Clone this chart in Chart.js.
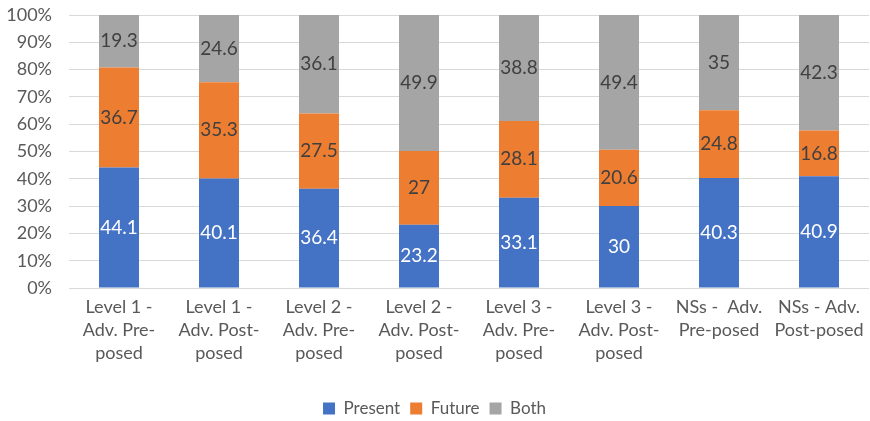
<!DOCTYPE html>
<html>
<head>
<meta charset="utf-8">
<script src="https://cdn.jsdelivr.net/npm/chart.js@4/dist/chart.umd.min.js"></script>
<style>
  html, body { margin: 0; padding: 0; background: #fff; }
  #wrap { width: 870px; height: 421px; }
</style>
</head>
<body>
<div id="wrap"><canvas id="c" width="870" height="421"></canvas></div>
<script>
// Categories (multi-line axis labels)
const categories = [
  ["Level 1 -", "Adv. Pre-", "posed"],
  ["Level 1 -", "Adv. Post-", "posed"],
  ["Level 2 -", "Adv. Pre-", "posed"],
  ["Level 2 -", "Adv. Post-", "posed"],
  ["Level 3 -", "Adv. Pre-", "posed"],
  ["Level 3 -", "Adv. Post-", "posed"],
  ["NSs -  Adv.", "Pre-posed"],
  ["NSs - Adv.", "Post-posed"]
];

// Percent shares per category
const present = [44.1, 40.1, 36.4, 23.2, 33.1, 30, 40.3, 40.9];
const future  = [36.7, 35.3, 27.5, 27, 28.1, 20.6, 24.8, 16.8];
const both    = [19.3, 24.6, 36.1, 49.9, 38.8, 49.4, 35, 42.3];

const yTicks = [0, 10, 20, 30, 40, 50, 60, 70, 80, 90, 100];

const FONT = "Lato, 'Open Sans', sans-serif";

// Writes each segment's value in the middle of its bar piece
const segmentLabels = {
  id: 'segmentLabels',
  afterDatasetsDraw(chart) {
    const ctx = chart.ctx;
    ctx.save();
    ctx.textAlign = 'center';
    ctx.textBaseline = 'middle';
    ctx.font = '19px ' + FONT;
    chart.data.datasets.forEach((ds, di) => {
      const meta = chart.getDatasetMeta(di);
      meta.data.forEach((bar, i) => {
        const top = Math.max(bar.y, chart.chartArea.top);
        const cy = (top + bar.base) / 2;
        ctx.fillStyle = ds.labelColor;
        ctx.fillText(String(ds.data[i]), bar.x, cy);
      });
    });
    ctx.restore();
  }
};

new Chart(document.getElementById('c'), {
  type: 'bar',
  data: {
    labels: categories,
    datasets: [
      { label: 'Present', data: present, backgroundColor: '#4472C4', labelColor: '#ffffff' },
      { label: 'Future',  data: future,  backgroundColor: '#ED7D31', labelColor: '#404040' },
      { label: 'Both',    data: both,    backgroundColor: '#A5A5A5', labelColor: '#404040' }
    ]
  },
  options: {
    responsive: false,
    animation: false,
    layout: { padding: { top: 15, right: 1, left: 0, bottom: -6 } },
    datasets: { bar: { categoryPercentage: 1, barPercentage: 0.4 } },
    scales: {
      x: {
        stacked: true,
        afterFit(scale) { scale.height = 102; scale.paddingLeft = 0; scale.paddingRight = 0; },
        grid: { display: false, drawTicks: false },
        border: { display: false },
        ticks: { color: '#595959', font: { family: FONT, size: 18, lineHeight: 1.28 }, padding: 8, maxRotation: 0, autoSkip: false }
      },
      y: {
        stacked: true,
        min: 0, max: 100,
        afterBuildTicks(scale) { scale.ticks = yTicks.map(v => ({ value: v })); },
        afterFit(scale) { scale.width = 69; scale.paddingTop = 0; scale.paddingBottom = 0; },
        grid: { color: '#D9D9D9', drawTicks: false, lineWidth: 1 },
        border: { display: false },
        ticks: { color: '#595959', font: { family: FONT, size: 18 }, padding: 17, callback: v => v + '%' }
      }
    },
    plugins: {
      legend: {
        position: 'bottom',
        labels: { color: '#595959', font: { family: FONT, size: 17 }, boxWidth: 12, boxHeight: 12, padding: 10 }
      },
      tooltip: { enabled: false }
    }
  },
  plugins: [segmentLabels]
});
</script>
</body>
</html>
